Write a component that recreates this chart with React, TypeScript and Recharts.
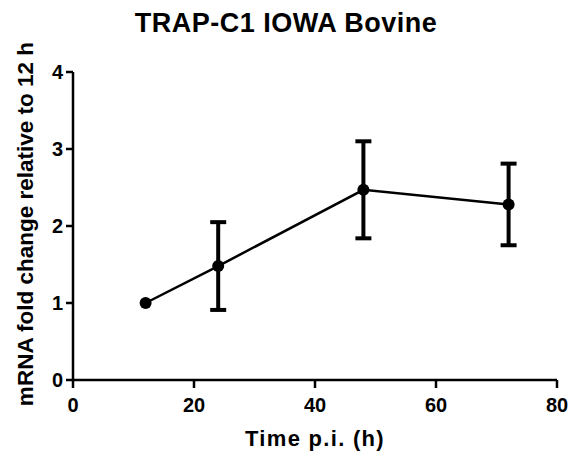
import { ErrorBar, Label, Line, LineChart, XAxis, YAxis } from "recharts";

const times = [12, 24, 48, 72];
const foldChange = [1.0, 1.48, 2.47, 2.28];
const sem = [0, 0.57, 0.63, 0.53];
const xTicks = [0, 20, 40, 60, 80];
const yTicks = [0, 1, 2, 3, 4];

const data = times.map((t, i) => ({ t, v: foldChange[i], err: sem[i] }));

const FONT = "'Liberation Sans', Arial, Helvetica, sans-serif";
const tickStyle = { fill: "#000", fontSize: 20, fontWeight: 700, fontFamily: FONT };

export default function App() {
  return (
    <div style={{ position: "absolute", left: 0, top: 0, width: 572, height: 458, background: "#fff" }}>
      <div
        style={{
          position: "absolute",
          top: 10,
          left: 0,
          width: 572,
          textAlign: "center",
          fontFamily: FONT,
          fontWeight: 700,
          fontSize: 27,
          letterSpacing: 0.5,
          lineHeight: "27px",
          color: "#000",
        }}
      >
        TRAP-C1 IOWA Bovine
      </div>
      <LineChart width={572} height={458} data={data} margin={{ top: 72, right: 15, bottom: 0, left: 0 }}>
        <XAxis
          dataKey="t"
          type="number"
          domain={[0, 80]}
          ticks={xTicks}
          height={78}
          tickSize={8}
          tickMargin={10}
          tick={tickStyle}
          axisLine={{ stroke: "#000", strokeWidth: 2.5 }}
          tickLine={{ stroke: "#000", strokeWidth: 2.5 }}
        >
          <Label
            value="Time p.i. (h)"
            position="insideBottom"
            offset={12}
            style={{ fill: "#000", fontSize: 22, fontWeight: 700, fontFamily: FONT, letterSpacing: 1.3 }}
          />
        </XAxis>
        <YAxis
          type="number"
          domain={[0, 4]}
          ticks={yTicks}
          width={73}
          tickSize={7}
          tickMargin={3}
          tick={tickStyle}
          axisLine={{ stroke: "#000", strokeWidth: 2.5 }}
          tickLine={{ stroke: "#000", strokeWidth: 2.5 }}
        >
          <Label
            content={() => (
              <text
                transform="translate(33,224) rotate(-90)"
                textAnchor="middle"
                fill="#000"
                fontSize={22.5}
                fontWeight={700}
                fontFamily={FONT}
              >
                mRNA fold change relative to 12 h
              </text>
            )}
          />
        </YAxis>
        <Line
          dataKey="v"
          stroke="#000"
          strokeWidth={2.5}
          dot={{ r: 6, fill: "#000", stroke: "#000", strokeWidth: 0 }}
          isAnimationActive={false}
        >
          <ErrorBar dataKey="err" direction="y" width={8} strokeWidth={4} stroke="#000" />
        </Line>
      </LineChart>
    </div>
  );
}
